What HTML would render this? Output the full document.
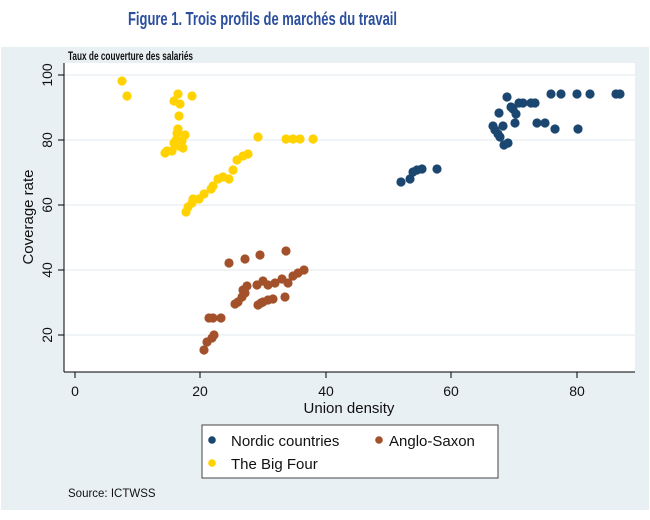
<!DOCTYPE html>
<html><head><meta charset="utf-8"><style>
html,body{margin:0;padding:0;background:#fff;}
svg{display:block;}
</style></head><body>
<svg width="650" height="520" xmlns="http://www.w3.org/2000/svg" font-family="Liberation Sans, sans-serif">
<rect width="650" height="520" fill="#fff"/>
<rect x="1" y="47" width="648" height="463" fill="#e9f0f3"/>
<text x="128" y="25" textLength="269" lengthAdjust="spacingAndGlyphs" font-size="18" font-weight="bold" fill="#2b4f9e">Figure 1. Trois profils de marchés du travail</text>
<text x="68" y="60" textLength="125" lengthAdjust="spacingAndGlyphs" font-size="11.5" font-weight="bold" fill="#111">Taux de couverture des salariés</text>
<rect x="64" y="63" width="571" height="309" fill="#fff"/>
<g stroke="#e6edf0" stroke-width="1.2">
<line x1="64" x2="635" y1="75" y2="75"/><line x1="64" x2="635" y1="140" y2="140"/><line x1="64" x2="635" y1="205" y2="205"/><line x1="64" x2="635" y1="270" y2="270"/><line x1="64" x2="635" y1="335" y2="335"/>
</g>
<g stroke="#000" stroke-width="1">
<line x1="64" y1="63" x2="64" y2="372"/><line x1="64" y1="372" x2="635" y2="372"/>
<line x1="58" x2="64" y1="75" y2="75"/><line x1="58" x2="64" y1="140" y2="140"/><line x1="58" x2="64" y1="205" y2="205"/><line x1="58" x2="64" y1="270" y2="270"/><line x1="58" x2="64" y1="335" y2="335"/>
<line x1="75" x2="75" y1="372" y2="378"/><line x1="200" x2="200" y1="372" y2="378"/><line x1="326" x2="326" y1="372" y2="378"/><line x1="451" x2="451" y1="372" y2="378"/><line x1="577" x2="577" y1="372" y2="378"/>
</g>
<g font-size="14" fill="#111" text-anchor="middle">
<text x="75" y="396">0</text><text x="200" y="396">20</text><text x="326" y="396">40</text><text x="451" y="396">60</text><text x="577" y="396">80</text>
<text transform="translate(52,75) rotate(-90)">100</text>
<text transform="translate(52,140) rotate(-90)">80</text>
<text transform="translate(52,205) rotate(-90)">60</text>
<text transform="translate(52,270) rotate(-90)">40</text>
<text transform="translate(52,335) rotate(-90)">20</text>
<text x="349" y="413" font-size="15">Union density</text>
<text transform="translate(33,217) rotate(-90)" font-size="15">Coverage rate</text>
</g>
<g fill="#ffd200">
<circle cx="122" cy="81" r="4.6"/><circle cx="127" cy="96" r="4.6"/><circle cx="178" cy="94" r="4.6"/><circle cx="192" cy="96" r="4.6"/><circle cx="174" cy="101" r="4.6"/><circle cx="180" cy="104" r="4.6"/><circle cx="179" cy="116" r="4.6"/><circle cx="178" cy="129" r="4.6"/><circle cx="177" cy="133" r="4.6"/><circle cx="185" cy="135" r="4.6"/><circle cx="176" cy="140" r="4.6"/><circle cx="182" cy="141" r="4.6"/><circle cx="174" cy="143" r="4.6"/><circle cx="179" cy="146" r="4.6"/><circle cx="183" cy="148" r="4.6"/><circle cx="172" cy="151" r="4.6"/><circle cx="165" cy="153" r="4.6"/><circle cx="167" cy="151" r="4.6"/><circle cx="258" cy="137" r="4.6"/><circle cx="286" cy="139" r="4.6"/><circle cx="293" cy="139" r="4.6"/><circle cx="300" cy="139" r="4.6"/><circle cx="313" cy="139" r="4.6"/><circle cx="248" cy="154" r="4.6"/><circle cx="243" cy="156" r="4.6"/><circle cx="237" cy="160" r="4.6"/><circle cx="233" cy="170" r="4.6"/><circle cx="229" cy="179" r="4.6"/><circle cx="223" cy="177" r="4.6"/><circle cx="218" cy="179" r="4.6"/><circle cx="213" cy="186" r="4.6"/><circle cx="211" cy="189" r="4.6"/><circle cx="204" cy="194" r="4.6"/><circle cx="199" cy="199" r="4.6"/><circle cx="193" cy="199" r="4.6"/><circle cx="192" cy="203" r="4.6"/><circle cx="188" cy="207" r="4.6"/><circle cx="186" cy="212" r="4.6"/>
</g>
<g fill="#a3512a">
<circle cx="229" cy="263" r="4.6"/><circle cx="245" cy="259" r="4.6"/><circle cx="260" cy="255" r="4.6"/><circle cx="286" cy="251" r="4.6"/><circle cx="304" cy="270" r="4.6"/><circle cx="298" cy="273" r="4.6"/><circle cx="293" cy="276" r="4.6"/><circle cx="288" cy="283" r="4.6"/><circle cx="282" cy="279" r="4.6"/><circle cx="275" cy="283" r="4.6"/><circle cx="268" cy="285" r="4.6"/><circle cx="263" cy="281" r="4.6"/><circle cx="257" cy="285" r="4.6"/><circle cx="247" cy="286" r="4.6"/><circle cx="243" cy="290" r="4.6"/><circle cx="245" cy="293" r="4.6"/><circle cx="242" cy="297" r="4.6"/><circle cx="238" cy="302" r="4.6"/><circle cx="235" cy="304" r="4.6"/><circle cx="285" cy="297" r="4.6"/><circle cx="273" cy="299" r="4.6"/><circle cx="268" cy="300" r="4.6"/><circle cx="263" cy="302" r="4.6"/><circle cx="258" cy="305" r="4.6"/><circle cx="261" cy="303" r="4.6"/><circle cx="221" cy="318" r="4.6"/><circle cx="213" cy="318" r="4.6"/><circle cx="209" cy="318" r="4.6"/><circle cx="214" cy="335" r="4.6"/><circle cx="212" cy="338" r="4.6"/><circle cx="207" cy="342" r="4.6"/><circle cx="204" cy="350" r="4.6"/>
</g>
<g fill="#1a4670">
<circle cx="401" cy="182" r="4.6"/><circle cx="410" cy="179" r="4.6"/><circle cx="413" cy="172" r="4.6"/><circle cx="417" cy="170" r="4.6"/><circle cx="422" cy="169" r="4.6"/><circle cx="437" cy="169" r="4.6"/><circle cx="507" cy="97" r="4.6"/><circle cx="499" cy="113" r="4.6"/><circle cx="511" cy="107" r="4.6"/><circle cx="513" cy="109" r="4.6"/><circle cx="516" cy="114" r="4.6"/><circle cx="515" cy="123" r="4.6"/><circle cx="493" cy="126" r="4.6"/><circle cx="495" cy="130" r="4.6"/><circle cx="503" cy="126" r="4.6"/><circle cx="498" cy="134" r="4.6"/><circle cx="500" cy="137" r="4.6"/><circle cx="504" cy="145" r="4.6"/><circle cx="508" cy="143" r="4.6"/><circle cx="519" cy="103" r="4.6"/><circle cx="523" cy="103" r="4.6"/><circle cx="531" cy="103" r="4.6"/><circle cx="535" cy="103" r="4.6"/><circle cx="537" cy="123" r="4.6"/><circle cx="545" cy="123" r="4.6"/><circle cx="555" cy="129" r="4.6"/><circle cx="578" cy="129" r="4.6"/><circle cx="551" cy="94" r="4.6"/><circle cx="561" cy="94" r="4.6"/><circle cx="577" cy="94" r="4.6"/><circle cx="590" cy="94" r="4.6"/><circle cx="616" cy="94" r="4.6"/><circle cx="620" cy="94" r="4.6"/>
</g>
<rect x="202" y="425" width="296" height="53" fill="#fff" stroke="#444" stroke-width="1"/>
<circle cx="212" cy="440" r="3.8" fill="#1a4670"/>
<circle cx="212" cy="463" r="3.8" fill="#ffd200"/>
<circle cx="379" cy="440" r="3.8" fill="#a3512a"/>
<g font-size="15" fill="#111">
<text x="231" y="446">Nordic countries</text>
<text x="231" y="469">The Big Four</text>
<text x="389" y="446">Anglo-Saxon</text>
</g>
<text x="68" y="497" font-size="11.5" fill="#111">Source: ICTWSS</text>
</svg>
</body></html>
